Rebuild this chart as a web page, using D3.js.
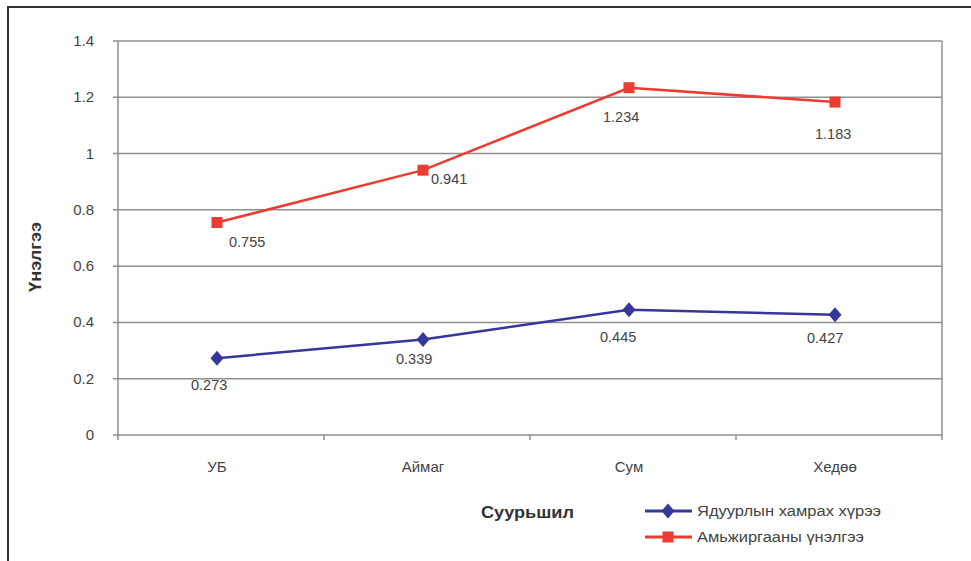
<!DOCTYPE html>
<html><head><meta charset="utf-8">
<script src="https://cdn.jsdelivr.net/npm/d3@7"></script>
<style>body{margin:0;background:#fff}svg{display:block}</style>
</head><body>
<svg id="c" width="971" height="561"></svg>
<script>
const categories = ["УБ", "Аймаг", "Сум", "Хедөө"];
const povertyGap = [0.273, 0.339, 0.445, 0.427];
const livingScore = [0.755, 0.941, 1.234, 1.183];
const yTicks = [0, 0.2, 0.4, 0.6, 0.8, 1, 1.2, 1.4];
const seriesNames = ["Ядуурлын хамрах хүрээ", "Амьжиргааны үнэлгээ"];

const svg = d3.select("#c");
const font = "Liberation Sans, Arial, sans-serif";
const L = 118, R = 942, T = 41, B = 435;
const x = d3.scaleBand().domain(categories).range([L, R]);
const y = d3.scaleLinear().domain([0, 1.4]).range([B, T]);
const px = c => x(c) + x.bandwidth() / 2 - 4;

// outer frame
svg.append("path").attr("d", "M8,561 V7 H971").attr("fill", "none").attr("stroke", "#333").attr("stroke-width", 2);

// gridlines
svg.append("g").selectAll("line").data(yTicks).join("line")
  .attr("x1", L - 5).attr("x2", R).attr("y1", d => y(d)).attr("y2", d => y(d))
  .attr("stroke", "#8f8f8f").attr("stroke-width", 1.5);
svg.append("line").attr("x1", R).attr("x2", R).attr("y1", T).attr("y2", B + 5).attr("stroke", "#8f8f8f").attr("stroke-width", 1.5);
svg.append("line").attr("x1", L).attr("x2", L).attr("y1", T).attr("y2", B + 5).attr("stroke", "#8f8f8f").attr("stroke-width", 1.5);
svg.append("g").selectAll("line").data(categories.slice(1)).join("line")
  .attr("x1", d => x(d)).attr("x2", d => x(d))
  .attr("y1", B).attr("y2", B + 5).attr("stroke", "#8f8f8f").attr("stroke-width", 1.5);

// y tick labels
svg.append("g").selectAll("text").data(yTicks).join("text")
  .attr("x", 94).attr("y", d => y(d) + 5).attr("text-anchor", "end")
  .attr("font-family", font).attr("font-size", 15).attr("fill", "#444")
  .text(d => d);
// x labels
svg.append("g").selectAll("text").data(categories).join("text")
  .attr("x", d => px(d)).attr("y", 472).attr("text-anchor", "middle")
  .attr("font-family", font).attr("font-size", 15).attr("fill", "#444")
  .text(d => d);

// axis titles
svg.append("text").attr("transform", "translate(41,257) rotate(-90)").attr("text-anchor", "middle")
  .attr("font-family", font).attr("font-size", 16).attr("font-weight", "bold").attr("fill", "#333")
  .attr("textLength", 70).attr("lengthAdjust", "spacingAndGlyphs").text("Үнэлгээ");
svg.append("text").attr("x", 481).attr("y", 518)
  .attr("font-family", font).attr("font-size", 16).attr("font-weight", "bold").attr("fill", "#333")
  .attr("textLength", 93).attr("lengthAdjust", "spacingAndGlyphs").text("Суурьшил");

const blue = "#36379a", red = "#ec3b30";
const line = d3.line().x((d, i) => px(categories[i])).y(d => y(d));

svg.append("path").datum(povertyGap).attr("d", line).attr("fill", "none").attr("stroke", blue).attr("stroke-width", 2.5);
svg.append("path").datum(livingScore).attr("d", line).attr("fill", "none").attr("stroke", red).attr("stroke-width", 2.5);

const diamond = "M0,-7.5L6.5,0L0,7.5L-6.5,0Z";
svg.append("g").selectAll("path").data(povertyGap).join("path")
  .attr("transform", (d, i) => `translate(${px(categories[i])},${y(d)})`)
  .attr("d", diamond).attr("fill", blue);
svg.append("g").selectAll("rect").data(livingScore).join("rect")
  .attr("x", (d, i) => px(categories[i]) - 5.5).attr("y", d => y(d) - 5.5)
  .attr("width", 11).attr("height", 11).attr("fill", red);

// data labels (offsets relative to points)
const redOff = [[12, 24], [8, 14], [-26, 34], [-20, 37]];
const blueOff = [[-26, 32], [-27, 24], [-29, 32], [-28, 28]];
const lbl = (arr, off) => svg.append("g").selectAll("text").data(arr).join("text")
  .attr("x", (d, i) => px(categories[i]) + off[i][0]).attr("y", (d, i) => y(d) + off[i][1])
  .attr("font-family", font).attr("font-size", 14.5).attr("fill", "#444").text(d => d.toFixed(3));
lbl(livingScore, redOff);
lbl(povertyGap, blueOff);

// legend
const lg = [{c: blue, t: seriesNames[0], y: 511, m: "d", w: 184}, {c: red, t: seriesNames[1], y: 537, m: "s", w: 167}];
lg.forEach(e => {
  svg.append("line").attr("x1", 645).attr("x2", 692).attr("y1", e.y).attr("y2", e.y).attr("stroke", e.c).attr("stroke-width", 3);
  if (e.m === "d") svg.append("path").attr("transform", `translate(668,${e.y})`).attr("d", diamond).attr("fill", e.c);
  else svg.append("rect").attr("x", 662.5).attr("y", e.y - 5.5).attr("width", 11).attr("height", 11).attr("fill", e.c);
  svg.append("text").attr("x", 697).attr("y", e.y + 5).attr("font-family", font).attr("font-size", 14)
    .attr("fill", "#444").attr("textLength", e.w).attr("lengthAdjust", "spacingAndGlyphs").text(e.t);
});
</script>
</body></html>
